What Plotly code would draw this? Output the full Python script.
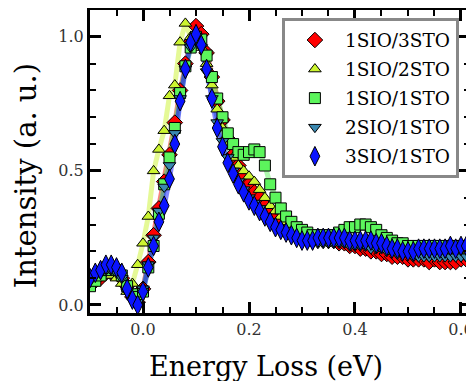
import plotly.graph_objects as go

energy = [-0.10, -0.09, -0.08, -0.07, -0.06, -0.05, -0.04, -0.03, -0.02, -0.01,
          0.00, 0.01, 0.02, 0.03, 0.04, 0.05, 0.06, 0.07, 0.08, 0.09,
          0.10, 0.11, 0.12, 0.13, 0.14, 0.15, 0.16, 0.17, 0.18, 0.19,
          0.20, 0.21, 0.22, 0.23, 0.24, 0.25, 0.26, 0.27, 0.28, 0.29,
          0.30, 0.31, 0.32, 0.33, 0.34, 0.35, 0.36, 0.37, 0.38, 0.39,
          0.40, 0.41, 0.42, 0.43, 0.44, 0.45, 0.46, 0.47, 0.48, 0.49,
          0.50, 0.51, 0.52, 0.53, 0.54, 0.55, 0.56, 0.57, 0.58, 0.59,
          0.60, 0.61, 0.62]

s_1sio_3sto = [0.08, 0.09, 0.10, 0.12, 0.12, 0.12, 0.10, 0.07, 0.03, 0.01,
               0.06, 0.16, 0.26, 0.36, 0.46, 0.56, 0.68, 0.80, 0.90, 0.98,
               1.04, 1.01, 0.94, 0.85, 0.76, 0.69, 0.62, 0.56, 0.52, 0.48,
               0.45, 0.42, 0.40, 0.37, 0.35, 0.33, 0.31, 0.30, 0.28, 0.27,
               0.26, 0.26, 0.25, 0.25, 0.25, 0.24, 0.24, 0.23, 0.23, 0.22,
               0.22, 0.21, 0.21, 0.20, 0.20, 0.19, 0.19, 0.18, 0.18, 0.18,
               0.17, 0.17, 0.17, 0.17, 0.16, 0.17, 0.16, 0.16, 0.16, 0.16,
               0.17, 0.17, 0.17]

s_1sio_2sto = [0.09, 0.10, 0.11, 0.11, 0.11, 0.10, 0.08, 0.05, 0.08, 0.15,
               0.23, 0.33, 0.50, 0.58, 0.65, 0.78, 0.82, 0.98, 1.05, 1.00,
               0.98, 0.96, 0.90, 0.82, 0.73, 0.66, 0.60, 0.55, 0.52, 0.50,
               0.48, 0.46, 0.43, 0.40, 0.37, 0.35, 0.33, 0.31, 0.29, 0.27,
               0.26, 0.25, 0.25, 0.25, 0.24, 0.24, 0.24, 0.24, 0.24, 0.23,
               0.23, 0.23, 0.22, 0.22, 0.22, 0.21, 0.21, 0.20, 0.20, 0.19,
               0.19, 0.19, 0.19, 0.19, 0.19, 0.18, 0.19, 0.18, 0.19, 0.19,
               0.19, 0.19, 0.19]

s_1sio_1sto = [0.07, 0.09, 0.11, 0.13, 0.14, 0.13, 0.11, 0.07, 0.04, 0.03,
               0.05, 0.14, 0.22, 0.34, 0.45, 0.55, 0.66, 0.79, 0.89, 0.96,
               1.00, 0.99, 0.93, 0.85, 0.77, 0.70, 0.64, 0.60, 0.57, 0.56,
               0.57, 0.58, 0.57, 0.52, 0.45, 0.40, 0.36, 0.33, 0.31, 0.29,
               0.28, 0.27, 0.26, 0.26, 0.26, 0.26, 0.26, 0.27, 0.28, 0.29,
               0.29, 0.30, 0.30, 0.29, 0.28, 0.26, 0.25, 0.24, 0.23, 0.23,
               0.22, 0.22, 0.22, 0.22, 0.22, 0.22, 0.22, 0.22, 0.22, 0.22,
               0.22, 0.22, 0.22]

s_2sio_1sto = [0.09, 0.11, 0.12, 0.13, 0.13, 0.12, 0.10, 0.05, 0.02, 0.01,
               0.06, 0.15, 0.25, 0.35, 0.44, 0.52, 0.64, 0.77, 0.88, 0.96,
               1.00, 0.96, 0.87, 0.77, 0.68, 0.61, 0.55, 0.50, 0.46, 0.43,
               0.40, 0.38, 0.36, 0.33, 0.31, 0.29, 0.28, 0.27, 0.26, 0.25,
               0.24, 0.23, 0.23, 0.23, 0.23, 0.23, 0.23, 0.23, 0.23, 0.22,
               0.22, 0.22, 0.22, 0.21, 0.21, 0.21, 0.20, 0.20, 0.19, 0.19,
               0.19, 0.18, 0.18, 0.18, 0.18, 0.18, 0.18, 0.18, 0.18, 0.18,
               0.18, 0.18, 0.18]

s_3sio_1sto = [0.10, 0.12, 0.13, 0.15, 0.15, 0.14, 0.12, 0.06, 0.02, 0.00,
               0.05, 0.14, 0.22, 0.31, 0.37, 0.47, 0.60, 0.76, 0.88, 0.98,
               1.01, 0.97, 0.88, 0.77, 0.66, 0.59, 0.53, 0.49, 0.45, 0.42,
               0.39, 0.37, 0.35, 0.33, 0.31, 0.29, 0.28, 0.27, 0.26, 0.25,
               0.24, 0.24, 0.24, 0.25, 0.25, 0.25, 0.25, 0.25, 0.25, 0.24,
               0.24, 0.24, 0.24, 0.24, 0.23, 0.23, 0.22, 0.21, 0.21, 0.20,
               0.20, 0.20, 0.21, 0.21, 0.21, 0.21, 0.21, 0.21, 0.22, 0.21,
               0.22, 0.22, 0.21]

names = ["1SIO/3STO", "1SIO/2STO", "1SIO/1STO", "2SIO/1STO", "3SIO/1STO"]
series = [s_1sio_3sto, s_1sio_2sto, s_1sio_1sto, s_2sio_1sto, s_3sio_1sto]
colors = ["#ff0000", "#ccf530", "#5cf55c", "#3a88b0", "#0a14ff"]
symbols = ["diamond", "triangle-up", "square", "triangle-down", "diamond-tall"]
sizes = [12, 11, 11, 11, 14]

x_title = "Energy Loss (eV)"
y_title = "Intensity (a. u.)"

X_RANGE = [-0.1, 0.617]
Y_RANGE = [-0.03, 1.1]
FONT = "DejaVu Serif"

fig = go.Figure()
for ys, c in zip(series, colors):
    fig.add_trace(go.Scatter(x=energy, y=ys, mode="lines",
                             line=dict(color=c, width=5), opacity=0.5,
                             showlegend=False, hoverinfo="skip"))
for nm, ys, c, sym, sz in zip(names, series, colors, symbols, sizes):
    fig.add_trace(go.Scatter(x=energy, y=ys, mode="markers", name=nm, legendgroup=nm,
                             marker=dict(symbol=sym, size=sz, color=c,
                                         line=dict(color="black", width=1))))

major_common = dict(showline=True, linewidth=3, linecolor="black", mirror="allticks",
                    ticks="inside", ticklen=11, tickwidth=2.5, tickcolor="black",
                    showgrid=False, zeroline=False, automargin=False, tickformat=".1f",
                    tickfont=dict(family=FONT, size=16, color="#333"))
minor_common = dict(showline=False, mirror="allticks", ticks="inside", tickcolor="black",
                    ticklen=6, tickwidth=1.5, showgrid=False, zeroline=False,
                    showticklabels=False, automargin=False)

fig.update_layout(
    xaxis=dict(range=X_RANGE, tickmode="linear", tick0=0, dtick=0.2, **major_common),
    yaxis=dict(range=Y_RANGE, tickmode="linear", tick0=0, dtick=0.5, **major_common),
    xaxis2=dict(range=X_RANGE, overlaying="x", anchor="y", side="bottom",
                tickmode="linear", tick0=0, dtick=0.05, **minor_common),
    yaxis2=dict(range=Y_RANGE, overlaying="y", anchor="x", side="left",
                tickmode="linear", tick0=0, dtick=0.1, **minor_common),
)
fig.add_trace(go.Scatter(x=[X_RANGE[0]], y=[Y_RANGE[0]], xaxis="x2", yaxis="y2",
                         mode="markers", marker=dict(opacity=0), showlegend=False,
                         hoverinfo="skip"))

fig.add_annotation(text=x_title, xref="paper", yref="paper", x=0.462, y=-0.175,
                   xanchor="center", yanchor="middle", showarrow=False,
                   font=dict(family=FONT, size=27, color="black"))
fig.add_annotation(text=y_title, xref="paper", yref="paper", x=-0.168, y=0.452,
                   xanchor="center", yanchor="middle", showarrow=False, textangle=-90,
                   font=dict(family=FONT, size=29, color="black"))

fig.update_layout(
    width=474, height=381,
    margin=dict(l=82, r=12, t=2, b=76),
    plot_bgcolor="white", paper_bgcolor="white",
    legend=dict(x=0.505, y=0.972, xanchor="left", yanchor="top",
                bgcolor="white", bordercolor="#888888", borderwidth=3,
                font=dict(family=FONT, size=18.5, color="black"),
                itemwidth=50, tracegroupgap=2),
)

fig.write_html("out.html")
